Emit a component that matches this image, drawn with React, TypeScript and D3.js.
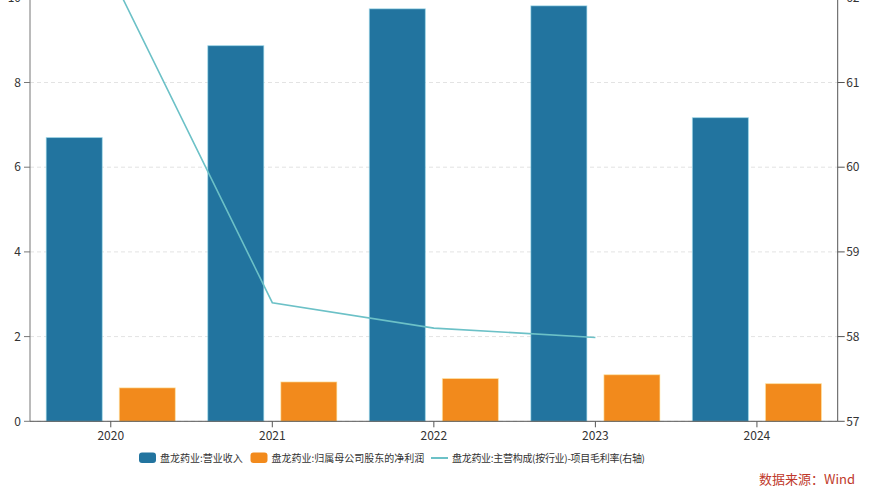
import React from "react";
import * as d3 from "d3";

const categories = ["2020", "2021", "2022", "2023", "2024"];
const revenue = [6.70, 8.87, 9.74, 9.81, 7.17];
const netProfit = [0.79, 0.93, 1.01, 1.10, 0.89];
const grossMargin: (number | null)[] = [62.28, 58.40, 58.10, 57.99, null];
const leftTicks = [0, 2, 4, 6, 8, 10];
const rightTicks = [57, 58, 59, 60, 61, 62];
const seriesNames = [
  "盘龙药业:营业收入",
  "盘龙药业:归属母公司股东的净利润",
  "盘龙药业:主营构成(按行业)-项目毛利率(右轴)",
];
const sourceText = "数据来源：Wind";

const W = 870;
const H = 492;
const left = 30;
const right = 837.7;
const bottom = 421.3;
const top = -2.2;

const BLUE = "#22749f";
const ORANGE = "#f28a1c";
const LINE = "#6cc1c7";
const FONT = "'Noto Sans CJK SC', 'Noto Sans', sans-serif";

export default function App() {
  const x = d3.scaleBand<string>().domain(categories).range([left, right]).padding(0);
  const inner = d3
    .scaleBand<number>()
    .domain([0, 1])
    .range([0, x.bandwidth()])
    .paddingInner(17 / 73)
    .paddingOuter(16.2 / 73);
  const yL = d3.scaleLinear().domain([0, 10]).range([bottom, top]);
  const yR = d3.scaleLinear().domain([57, 62]).range([bottom, top]);

  const linePts = categories
    .map((c, i) => ({ c, v: grossMargin[i] }))
    .filter((d) => d.v !== null) as { c: string; v: number }[];
  const lineGen = d3
    .line<{ c: string; v: number }>()
    .x((d) => (x(d.c) as number) + x.bandwidth() / 2)
    .y((d) => yR(d.v));

  return (
    <svg
      width={W}
      height={H}
      style={{ position: "absolute", left: 0, top: 0, background: "#fff" }}
      fontFamily={FONT}
    >
      {/* grid */}
      {leftTicks.map((t) => (
        <line
          key={"g" + t}
          x1={left}
          x2={right}
          y1={yL(t)}
          y2={yL(t)}
          stroke="#e3e3e3"
          strokeDasharray="4,3"
          strokeWidth={1}
        />
      ))}
      {/* bars */}
      {categories.map((c, i) => (
        <g key={"b" + c} transform={`translate(${x(c)},0)`}>
          <rect
            x={inner(0)}
            y={yL(revenue[i])}
            width={inner.bandwidth()}
            height={bottom - yL(revenue[i])}
            fill={BLUE}
            stroke="#9fdcec"
            strokeOpacity={0.6}
            strokeWidth={1}
          />
          <rect
            x={inner(1)}
            y={yL(netProfit[i])}
            width={inner.bandwidth()}
            height={bottom - yL(netProfit[i])}
            fill={ORANGE}
            stroke="#ffe9a8"
            strokeOpacity={0.6}
            strokeWidth={1}
          />
        </g>
      ))}
      {/* line */}
      <path d={lineGen(linePts) || ""} fill="none" stroke={LINE} strokeWidth={1.6} />
      {/* axes */}
      <line x1={left} x2={left} y1={top} y2={bottom} stroke="#777" strokeWidth={1} />
      <line x1={right} x2={right} y1={top} y2={bottom} stroke="#555" strokeWidth={1} />
      <line x1={left} x2={right} y1={bottom} y2={bottom} stroke="#555" strokeWidth={1} />
      {leftTicks.map((t) => (
        <g key={"l" + t}>
          <line x1={left - 6} x2={left} y1={yL(t)} y2={yL(t)} stroke="#777" />
          <text x={21} y={yL(t)} dy="0.35em" textAnchor="end" fontSize={12} fill="#333">
            {t}
          </text>
        </g>
      ))}
      {rightTicks.map((t) => (
        <g key={"r" + t}>
          <line x1={right} x2={right + 7} y1={yR(t)} y2={yR(t)} stroke="#555" />
          <text x={right + 8.5} y={yR(t)} dy="0.35em" textAnchor="start" fontSize={12} fill="#333">
            {t}
          </text>
        </g>
      ))}
      {categories.map((c) => {
        const cx = (x(c) as number) + x.bandwidth() / 2;
        return (
          <g key={"x" + c}>
            <line x1={cx} x2={cx} y1={bottom} y2={bottom + 6} stroke="#555" />
            <text x={cx} y={435.5} dy="0.35em" textAnchor="middle" fontSize={12} fill="#333">
              {c}
            </text>
          </g>
        );
      })}
      {/* legend */}
      <rect x={139} y={452.5} width={17} height={10.5} rx={3} fill={BLUE} />
      <text x={160} y={458} dy="0.35em" fontSize={10} fill="#333">
        {seriesNames[0]}
      </text>
      <rect x={250.5} y={452.5} width={17} height={10.5} rx={3} fill={ORANGE} />
      <text x={271.5} y={458} dy="0.35em" fontSize={10} fill="#333">
        {seriesNames[1]}
      </text>
      <line x1={431} x2={448} y1={458} y2={458} stroke={LINE} strokeWidth={2} />
      <text x={452} y={458} dy="0.35em" fontSize={10} fill="#333" textLength={193}>
        {seriesNames[2]}
      </text>
      {/* source */}
      <text x={855} y={479} dy="0.35em" textAnchor="end" fontSize={13} fill="#c0392b">
        {sourceText}
      </text>
    </svg>
  );
}
